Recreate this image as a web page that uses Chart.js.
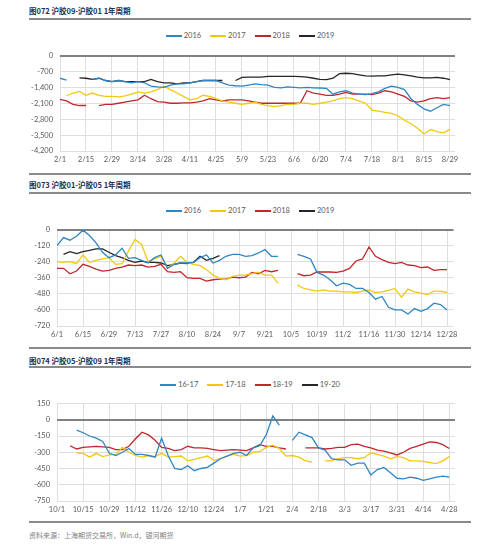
<!DOCTYPE html>
<html>
<head>
<meta charset="utf-8">
<script src="https://cdn.jsdelivr.net/npm/chart.js@4.4.1/dist/chart.umd.min.js"></script>
<style>
body{margin:0;background:#fff;width:500px;height:547px;position:relative;overflow:hidden;font-family:"Noto Sans CJK SC",sans-serif}
.title{position:absolute;left:29px;font-size:7.5px;font-weight:bold;color:#203050;line-height:10px;white-space:nowrap}
.rule{position:absolute;left:29px;width:442px;height:2px;background:#8a8a8a}
.legend{position:absolute;left:0;width:500px;display:flex;justify-content:center;gap:9px;font:7.5px Lato,sans-serif;color:#595959;line-height:10px}
.legend .item{display:flex;align-items:center}
.legend i{display:inline-block;width:16px;height:1.5px;margin-right:2px}
.wrap{position:absolute;left:0;width:500px;height:128px}
.foot{position:absolute;left:29px;top:530px;font-size:7px;color:#808080;line-height:10px}
</style>
</head>
<body>
<div class="title" style="top:6px">图072 沪胶09-沪胶01 1年周期</div>
<div class="rule" style="top:18px"></div>
<div class="legend" id="lg1" style="top:31px"></div>
<div class="wrap" style="top:44px"><canvas id="c1"></canvas></div>
<div class="rule" style="top:173px"></div>

<div class="title" style="top:180px">图073 沪胶01-沪胶05 1年周期</div>
<div class="rule" style="top:192px"></div>
<div class="legend" id="lg2" style="top:206px"></div>
<div class="wrap" style="top:218px"><canvas id="c2"></canvas></div>
<div class="rule" style="top:347px"></div>

<div class="title" style="top:356px">图074 沪胶05-沪胶09 1年周期</div>
<div class="rule" style="top:366px"></div>
<div class="legend" id="lg3" style="top:380px"></div>
<div class="wrap" style="top:392px"><canvas id="c3"></canvas></div>
<div class="rule" style="top:521px"></div>

<div class="foot">资料来源：上海期货交易所，Win.d，银河期货</div>

<script>
// colours per series slot
const colors = ['#2f86c3', '#f2c80f', '#c0272d', '#262626'];

// chart 1: 沪胶09-沪胶01 (one point every 3.5 days, ticks every 14 days)
const dates1 = ['2/1','2/15','2/29','3/14','3/28','4/11','4/25','5/9','5/23','6/6','6/20','7/4','7/18','8/1','8/15','8/29'];
const names1 = ['2016','2017','2018','2019'];
const c1_2016 = [-1000,-1080,null,null,null,-1050,-1000,-1100,-1150,-1100,
  -1150,-1200,-1150,-1200,-1350,-1380,-1400,-1300,-1250,-1250,
  -1200,-1150,-1100,-1100,-1100,-1200,-1300,-1330,-1350,-1300,
  -1250,-1280,-1300,-1400,-1420,-1380,-1400,-1420,-1400,-1420,
  -1430,-1450,-1700,-1600,-1550,-1650,-1700,-1720,-1680,-1600,
  -1450,-1350,-1400,-1500,-1900,-2150,-2350,-2450,-2300,-2150,-2200];
const c1_2017 = [null,-1770,-1650,-1580,-1750,-1650,-1750,-1800,-1800,-1820,
  -1780,-1700,-1600,-1650,-1600,-1500,-1350,-1500,-1650,-1800,
  -1950,-1900,-1750,-1800,-1900,-2000,-2050,-2100,-2150,-2100,
  -2050,-2150,-2200,-2250,-2200,-2150,-2150,-2100,-2100,-2150,
  -2100,-2050,-2000,-1900,-1850,-1900,-2000,-2100,-2400,-2450,
  -2500,-2550,-2650,-2850,-3000,-3200,-3450,-3250,-3350,-3400,-3250];
const c1_2018 = [-1930,-2000,-2150,-2200,-2200,null,-2200,-2150,-2150,-2100,
  -2050,-2000,-1950,-1750,-1900,-2030,-2050,-2100,-2100,-2080,
  -2080,-2050,-2000,-1900,-1950,-2000,-1950,-1950,-1950,-2000,
  -2050,-2100,-2100,-2100,-2100,-2100,-2100,-2080,-1550,-1650,
  -1700,-1750,-1750,-1700,-1620,-1700,-1700,-1700,-1720,-1650,
  -1550,-1600,-1700,-1800,-2000,-2050,-2000,-1900,-1850,-1900,-1850];
const c1_2019 = [null,null,null,-980,-1000,-1050,-1000,-1100,-1150,-1100,
  -1150,-1150,-1150,-1150,-1050,-1150,-1200,-1200,-1250,-1200,
  -1200,-1150,-1100,-1100,-1100,-1100,null,-1100,-960,-950,
  -950,-950,-920,-920,-920,-920,-920,-930,-950,-1000,
  -1050,-1060,-1000,-800,-780,-800,-850,-900,-910,-900,
  -900,-850,-820,-850,-900,-950,-980,-980,-960,-1000,-1060];

// chart 2: 沪胶01-沪胶05
const dates2 = ['6/1','6/15','6/29','7/13','7/27','8/10','8/24','9/7','9/21','10/5','10/19','11/2','11/16','11/30','12/14','12/28'];
const names2 = ['2016','2017','2018','2019'];
const c2_2016 = [-120,-60,-80,-50,-5,-45,-100,-170,-210,-190,
  -140,-215,-210,-230,-250,-210,-190,-290,-260,-250,
  -250,-245,-210,-190,-250,-230,-200,-185,-185,-200,
  -195,-175,-150,-200,-200,null,null,-185,-200,-220,
  -320,-340,-375,-420,-400,-410,-440,-440,-470,-520,
  -500,-580,-600,-600,-630,-590,-610,-590,-550,-560,-600];
const c2_2017 = [-240,-245,-240,-255,-190,-245,-230,-220,-210,-260,
  -255,-160,-75,-110,-240,-220,-200,-290,-250,-200,
  -245,-260,-270,-300,-340,-365,-375,-350,-340,-340,
  -330,-320,-340,-340,-400,null,null,-415,-440,-450,
  -460,-450,-460,-460,-465,-465,-470,-460,-450,-470,
  -465,-455,-440,-505,-445,-465,-475,-485,-460,-460,-470];
const c2_2018 = [-290,-290,-330,-310,-260,-275,-295,-310,-305,-290,
  -280,-265,-270,-265,-280,-275,-260,-315,-320,-315,
  -360,-365,-365,-385,-375,-370,-370,-355,-360,-355,
  -320,-330,-305,-315,-305,null,null,-330,-345,-340,
  -317,-317,-317,-320,-310,-290,-235,-220,-130,-200,
  -225,-245,-255,-245,-265,-270,-285,-280,-305,-300,-300];
const c2_2019 = [null,-185,-165,-180,-165,-155,-145,-145,-170,-195,
  -210,-230,-245,-235,-245,-245,-250,-270,-260,-250,
  -255,-245,-200,-230,-215,-195];

// chart 3: 沪胶05-沪胶09
const dates3 = ['10/1','10/15','10/29','11/12','11/26','12/10','12/24','1/7','1/21','2/4','2/18','3/3','3/17','3/31','4/14','4/28'];
const names3 = ['16-17','17-18','18-19','19-20'];
const c3_1617 = [null,null,null,-95,-120,-150,-170,-200,-310,-330,
  -300,-265,-320,-320,-330,-345,-170,-330,-450,-460,
  -425,-470,-450,-440,-400,-360,-335,-310,-300,-330,
  -260,-240,-140,35,-50,null,-190,-115,-140,-165,
  -260,-280,-360,-370,-370,-420,-400,-400,-510,-460,
  -440,-490,-540,-545,-530,-540,-560,-545,-530,-520,-530];
const c3_1718 = [null,null,null,-305,-310,-345,-310,-340,-325,-320,
  -255,-300,-330,-345,-330,-340,-310,-345,-340,-335,
  -380,-365,-350,-335,-375,-360,-335,-320,-335,-330,
  -300,-295,-255,-235,-265,-335,-330,-345,-380,-390,
  null,-380,-380,-360,-350,-350,-360,-350,-305,-320,
  -335,-360,-340,-350,-380,-380,-385,-395,-405,-380,-340];
const c3_1819 = [null,null,-240,-270,-255,-250,-245,-250,-255,-275,
  -275,-245,-175,-115,-140,-190,-255,-265,-285,-275,
  -245,-260,-260,-265,-275,-285,-280,-275,-280,-285,
  -260,-230,-245,-245,-260,-270,null,null,-260,-260,
  -260,-270,-265,-255,-255,-230,-225,-245,-260,-280,
  -290,-305,-325,-300,-265,-245,-225,-205,-210,-230,-265];
const c3_1920 = [];

const tickFont = { family: 'Lato', size: 7.5 };

function buildLegend(elId, names) {
    document.getElementById(elId).innerHTML = names.map((n, k) =>
        '<span class="item"><i style="background:' + colors[k] + '"></i>' + n + '</span>').join('');
}

function drawChart(canvasId, dates, names, series, yMin, yMax, yStep, xMax, padTop, padRight, yWidth, xHeight) {
    const ctx = document.getElementById(canvasId).getContext('2d');
    new Chart(ctx, {
        type: 'line',
        data: {
            datasets: series.map((s, k) => ({
                label: names[k],
                data: s.map((v, i) => ({ x: i, y: v })),
                borderColor: colors[k],
                borderWidth: 1.3,
                pointRadius: 0,
                fill: false,
                tension: 0
            }))
        },
        options: {
            responsive: true,
            maintainAspectRatio: false,
            animation: false,
            layout: { padding: { top: padTop, right: padRight, left: 0, bottom: 0 } },
            plugins: { legend: { display: false }, tooltip: { enabled: false } },
            scales: {
                x: {
                    type: 'linear', min: 0, max: xMax,
                    afterBuildTicks: s => { s.ticks = dates.map((d, k) => ({ value: k * 4 })); },
                    ticks: { callback: (v, i) => dates[i], autoSkip: false, maxRotation: 0, font: tickFont, color: '#595959', padding: 4 },
                    grid: { color: '#dedede', drawTicks: false },
                    border: { display: false },
                    afterFit: s => { s.height = xHeight; }
                },
                y: {
                    min: yMin, max: yMax,
                    ticks: { stepSize: yStep, font: tickFont, color: '#595959', padding: 7 },
                    grid: {
                        drawTicks: false,
                        color: c => c.tick.value === 0 ? '#808080' : '#dedede',
                        lineWidth: c => c.tick.value === 0 ? 2 : 1
                    },
                    border: { display: false },
                    afterFit: s => { s.width = yWidth; }
                }
            }
        }
    });
}

buildLegend('lg1', names1);
buildLegend('lg2', names2);
buildLegend('lg3', names3);

drawChart('c1', dates1, names1, [c1_2016, c1_2017, c1_2018, c1_2019], -4200, 0, 700, 60.77, 9, 45, 60, 21);
drawChart('c2', dates2, names2, [c2_2016, c2_2017, c2_2018, c2_2019], -720, 0, 120, 61, 8, 46.5, 57, 20);
drawChart('c3', dates3, names3, [c3_1617, c3_1718, c3_1819, c3_1920], -750, 150, 150, 60.87, 9, 45, 57, 19);
</script>
</body>
</html>
